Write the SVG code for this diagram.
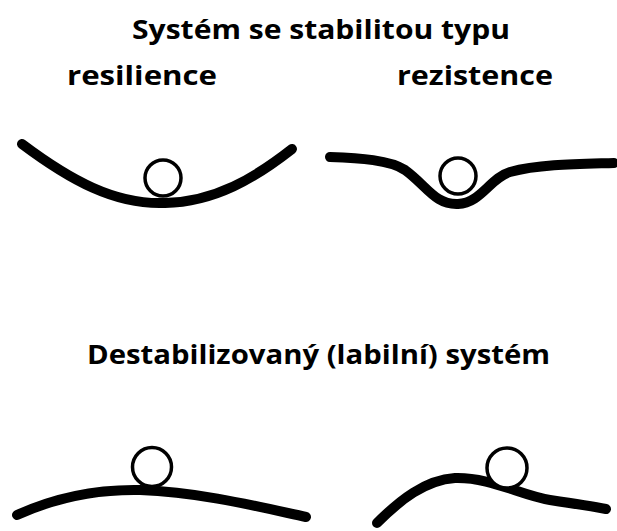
<svg xmlns="http://www.w3.org/2000/svg" width="617" height="531" viewBox="0 0 617 531">
  <style>
    .t { font-family: "Open Sans", Lato, "Liberation Sans", sans-serif; font-weight: bold; font-size: 27px; fill: #000; }
    .curve { fill: none; stroke: #000; stroke-width: 10; stroke-linecap: round; stroke-linejoin: round; }
    .ball { fill: #fff; stroke: #000; stroke-width: 3.5; }
  </style>
  <rect width="617" height="531" fill="#fff"/>

  <!-- headings -->
  <text class="t" x="321" y="39" text-anchor="middle" textLength="378" lengthAdjust="spacingAndGlyphs">Systém se stabilitou typu</text>
  <text class="t" x="67" y="85" textLength="150" lengthAdjust="spacingAndGlyphs">resilience</text>
  <text class="t" x="397" y="85" textLength="156" lengthAdjust="spacingAndGlyphs">rezistence</text>
  <text class="t" x="87" y="364" textLength="463" lengthAdjust="spacingAndGlyphs">Destabilizovaný (labilní) systém</text>

  <!-- resilience: wide bowl -->
  <path class="curve" d="M22,144 C70,180 115,205 165,203 C215,202 255,178 292,149"/>
  <circle class="ball" cx="163" cy="178" r="18"/>

  <!-- rezistence: narrow dip -->
  <path class="curve" d="M330,157 C360,158 390,160 405,170 C427,186 435,205 458,204 C481,203 490,178 510,172 C540,164 580,164 614,163"/>
  <circle class="ball" cx="458" cy="176" r="18"/>

  <!-- labile: hilltop -->
  <path class="curve" d="M17,515 C50,500 90,489 140,490 C200,492 260,507 306,517"/>
  <circle class="ball" cx="152" cy="467" r="19.5"/>

  <!-- labile: slope -->
  <path class="curve" d="M377,523 C400,500 425,480 455,478 C490,477 520,495 550,500 C570,503 590,506 606,509"/>
  <circle class="ball" cx="507" cy="468" r="20"/>
</svg>
